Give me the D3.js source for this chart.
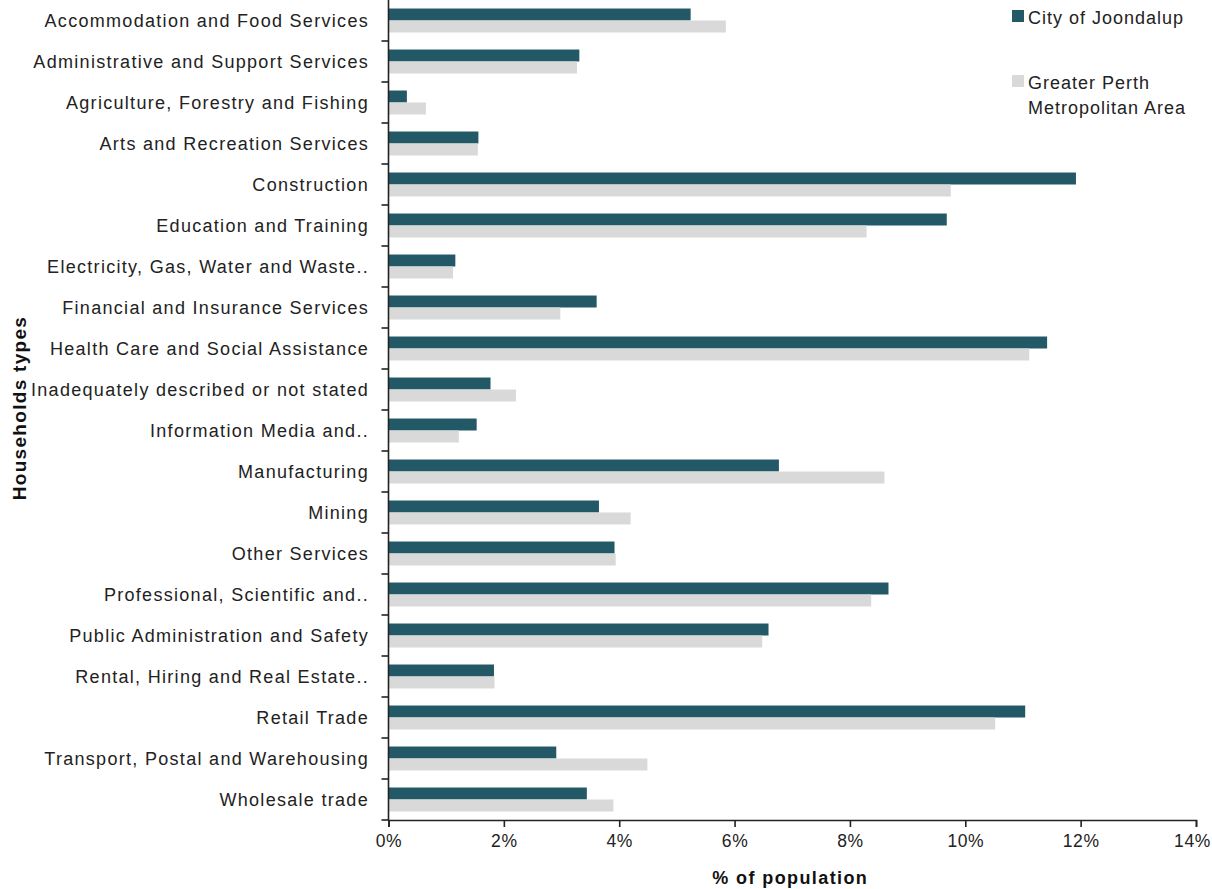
<!DOCTYPE html>
<html>
<head>
<meta charset="utf-8">
<script src="https://cdn.jsdelivr.net/npm/d3@7"></script>
<style>
  html, body { margin: 0; padding: 0; background: #fff; }
  svg { display: block; }
  text { font-family: "Liberation Sans", Arial, sans-serif; }
</style>
</head>
<body>
<svg id="chart" width="1212" height="889"></svg>
<script>
const categories = [
  "Accommodation and Food Services",
  "Administrative and Support Services",
  "Agriculture, Forestry and Fishing",
  "Arts and Recreation Services",
  "Construction",
  "Education and Training",
  "Electricity, Gas, Water and Waste..",
  "Financial and Insurance Services",
  "Health Care and Social Assistance",
  "Inadequately described or not stated",
  "Information Media and..",
  "Manufacturing",
  "Mining",
  "Other Services",
  "Professional, Scientific and..",
  "Public Administration and Safety",
  "Rental, Hiring and Real Estate..",
  "Retail Trade",
  "Transport, Postal and Warehousing",
  "Wholesale trade"
];
const seriesNames = ["City of Joondalup", "Greater Perth Metropolitan Area"];
const joondalup = [5.23, 3.30, 0.31, 1.55, 11.91, 9.67, 1.15, 3.60, 11.41, 1.76, 1.52, 6.76, 3.64, 3.91, 8.66, 6.58, 1.82, 11.03, 2.90, 3.43];
const perth     = [5.84, 3.26, 0.64, 1.54, 9.74, 8.28, 1.11, 2.97, 11.10, 2.20, 1.21, 8.59, 4.19, 3.93, 8.36, 6.47, 1.83, 10.51, 4.48, 3.89];
const xTicks = [0, 2, 4, 6, 8, 10, 12, 14];
const colors = ["#235967", "#d9d9d9"];

const svg = d3.select("#chart");
const margin = {left: 388.5, right: 16, top: 0, bottom: 69};
const W = 1212, H = 889;
const x = d3.scaleLinear().domain([0, 14]).range([margin.left, W - margin.right]);
const y = d3.scaleBand().domain(categories).range([margin.top, H - margin.bottom]).padding(0);
const y1 = d3.scaleBand().domain(seriesNames).range([0, y.bandwidth()]).paddingInner(0).paddingOuter(0.71);

const rows = categories.map((c, i) => ({cat: c, vals: [joondalup[i], perth[i]]}));

const g = svg.append("g");
const rowG = g.selectAll("g.row").data(rows).join("g")
  .attr("class", "row")
  .attr("transform", d => `translate(0,${y(d.cat)})`);
rowG.selectAll("rect").data(d => d.vals.map((v, k) => ({v, k}))).join("rect")
  .attr("x", x(0) + 0.5)
  .attr("y", d => y1(seriesNames[d.k]))
  .attr("width", d => x(d.v) - x(0))
  .attr("height", y1.bandwidth())
  .attr("fill", d => colors[d.k]);

// Y axis
const yAxisG = svg.append("g");
yAxisG.append("line")
  .attr("x1", x(0)).attr("x2", x(0))
  .attr("y1", margin.top).attr("y2", H - margin.bottom)
  .attr("stroke", "#222").attr("stroke-width", 1.6);
const bounds = categories.slice(1).map(c => y(c)).concat([H - margin.bottom]);
yAxisG.selectAll("line.tk").data(bounds).join("line")
  .attr("class", "tk")
  .attr("x1", x(0) - 7).attr("x2", x(0))
  .attr("y1", d => d).attr("y2", d => d)
  .attr("stroke", "#222").attr("stroke-width", 1.6);
yAxisG.selectAll("text").data(categories).join("text")
  .attr("x", 369)
  .attr("y", d => y(d) + y.bandwidth() / 2)
  .attr("dy", "0.35em")
  .attr("text-anchor", "end")
  .attr("font-size", 18)
  .attr("letter-spacing", 1.3)
  .attr("fill", "#222")
  .text(d => d);

// X axis
const xAxis = d3.axisBottom(x).tickValues(xTicks).tickFormat(d => d + "%").tickSize(7).tickPadding(8);
const xg = svg.append("g")
  .attr("transform", `translate(0,${H - margin.bottom})`)
  .call(xAxis);
xg.select(".domain").attr("stroke", "#222").attr("stroke-width", 1.6);
xg.selectAll(".tick line").attr("stroke", "#222").attr("stroke-width", 1.6);
xg.selectAll(".tick text")
  .attr("font-family", "'Liberation Sans', Arial, sans-serif")
  .attr("font-size", 17.5).attr("letter-spacing", 0.6).attr("fill", "#222")
  .attr("dx", d => d === 14 ? -4 : 0);

// Axis titles
svg.append("text")
  .attr("x", (x(0) + x(14)) / 2 - 2)
  .attr("y", 884)
  .attr("text-anchor", "middle")
  .attr("font-size", 18).attr("font-weight", "bold").attr("fill", "#111")
  .attr("letter-spacing", 1.4)
  .text("% of population");
svg.append("text")
  .attr("transform", `translate(26,${408}) rotate(-90)`)
  .attr("text-anchor", "middle")
  .attr("font-size", 19).attr("font-weight", "bold").attr("fill", "#111")
  .attr("letter-spacing", 1.3)
  .text("Households types");

// Legend
const legend = svg.append("g");
const legendItems = [
  {name: seriesNames[0], lines: ["City of Joondalup"], y: 10},
  {name: seriesNames[1], lines: ["Greater Perth", "Metropolitan Area"], y: 75}
];
legendItems.forEach((it, i) => {
  legend.append("rect").attr("x", 1012).attr("y", it.y).attr("width", 12).attr("height", 12).attr("fill", colors[i]);
  const t = legend.append("text").attr("x", 1028).attr("y", it.y + 14)
    .attr("font-size", 18).attr("letter-spacing", 1.0).attr("fill", "#222");
  it.lines.forEach((l, j) => t.append("tspan").attr("x", 1028).attr("dy", j === 0 ? 0 : 25).text(l));
});
</script>
</body>
</html>
